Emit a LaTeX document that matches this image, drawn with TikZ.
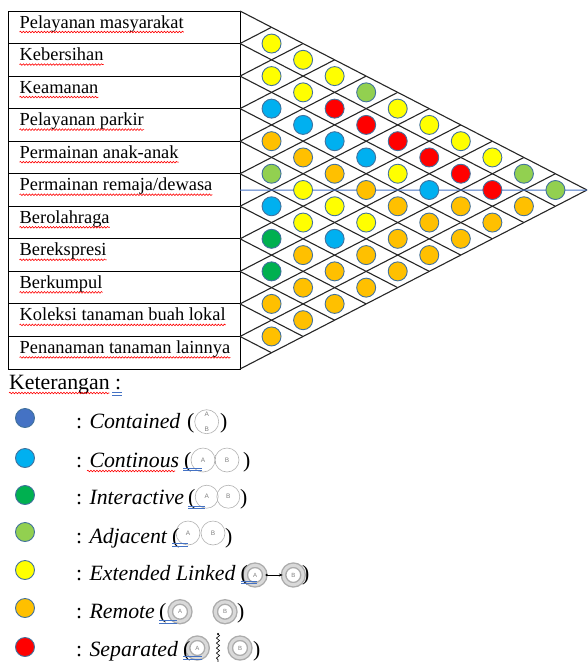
\documentclass[tikz,border=0pt]{standalone}
\usepackage{fontspec}
\setmainfont{Liberation Serif}
\newfontfamily\iconfont{Liberation Sans}
\usetikzlibrary{decorations.pathmorphing,arrows.meta}
\definecolor{cYel}{HTML}{FFFF00}
\definecolor{cLG}{HTML}{92D050}
\definecolor{cCy}{HTML}{00B0F0}
\definecolor{cRed}{HTML}{FF0000}
\definecolor{cOr}{HTML}{FFC000}
\definecolor{cDG}{HTML}{00B050}
\definecolor{cBl}{HTML}{4472C4}
\definecolor{cBord}{HTML}{41719C}
\begin{document}
\begin{tikzpicture}[x=1pt,y=-1pt,
  dot/.style={circle, draw=cBord, line width=0.9pt, minimum size=19pt, inner sep=0pt},
  lbl/.style={anchor=base west, inner sep=0pt, font=\fontsize{18.4pt}{22pt}\selectfont},
  leg/.style={anchor=base west, inner sep=0pt, font=\fontsize{21.8pt}{25pt}\selectfont},
  tbl/.style={line width=1pt, black},
  gridline/.style={line width=1.1pt, black!85},
  squig/.style={red, line width=0.6pt, decorate, decoration={snake, amplitude=0.8pt, segment length=3pt}},
  gram/.style={cBl, line width=0.6pt},
  ico/.style={circle, draw=gray!60, line width=0.6pt, minimum size=24pt, inner sep=0pt, font=\iconfont\fontsize{6.5pt}{6.5pt}\selectfont, text=gray},
  ring/.style={circle, draw=gray!65, double=gray!30, double distance=3pt, line width=1.4pt, minimum size=19.5pt, inner sep=0pt, font=\iconfont\fontsize{6pt}{6pt}\selectfont, text=gray}
]
\useasboundingbox (0,0) rectangle (587,662);
\def\h{32.545}
\def\w{31.545}
% coordinates
\foreach \i in {0,...,11}{
  \coordinate (L\i) at (240,{11+\i*\h});
  \coordinate (R\i) at (8,{11+\i*\h});
  \coordinate (T\i) at ({240+\i*\w},{11+\i*\h/2});
  \coordinate (B\i) at ({240+(11-\i)*\w},{11+(\i+11)*\h/2});
}
% table
\draw[tbl] (R0) rectangle (L11);
\foreach \i in {1,...,10} \draw[tbl] (R\i) -- (L\i);
% diamond grid
\foreach \i in {0,...,10} \draw[gridline] (L\i) -- (B\i);
\foreach \i in {1,...,11} \draw[gridline] (L\i) -- (T\i);
% blue line
\coordinate (midL) at (240,190);
\draw[cBl, line width=1pt] (midL) -- (B0);
% labels
\node[lbl] (n0) at (19.5,{28+0*\h}) {Pelayanan masyarakat};
\node[lbl] (n1) at (19.5,{28+1*\h}) {Kebersihan};
\node[lbl] (n2) at (19.5,{28+2*\h}) {Keamanan};
\node[lbl] (n3) at (19.5,{28+3*\h}) {Pelayanan parkir};
\node[lbl] (n4) at (19.5,{28+4*\h}) {Permainan anak-anak};
\node[lbl] (n5) at (19.5,{28+5*\h}) {Permainan remaja/dewasa};
\node[lbl] (n6) at (19.5,{28+6*\h}) {Berolahraga};
\node[lbl] (n7) at (19.5,{28+7*\h}) {Berekspresi};
\node[lbl] (n8) at (19.5,{28+8*\h}) {Berkumpul};
\node[lbl] (n9) at (19.5,{28+9*\h}) {Koleksi tanaman buah lokal};
\node[lbl] (n10) at (19.5,{28+10*\h}) {Penanaman tanaman lainnya};
\foreach \i in {0,...,10} \draw[squig] ([yshift=-4pt]n\i.base west) -- ([yshift=-4pt]n\i.base east);
% matrix circles
\foreach \a/\b/\c in {
 0/1/cYel,0/2/cYel,0/3/cYel,0/4/cLG,0/5/cYel,0/6/cYel,0/7/cYel,0/8/cYel,0/9/cLG,0/10/cLG,
 1/2/cYel,1/3/cYel,1/4/cRed,1/5/cRed,1/6/cRed,1/7/cRed,1/8/cRed,1/9/cRed,1/10/cOr,
 2/3/cCy,2/4/cCy,2/5/cCy,2/6/cCy,2/7/cYel,2/8/cCy,2/9/cOr,2/10/cOr,
 3/4/cOr,3/5/cOr,3/6/cOr,3/7/cOr,3/8/cOr,3/9/cOr,3/10/cOr,
 4/5/cLG,4/6/cYel,4/7/cYel,4/8/cYel,4/9/cOr,4/10/cOr,
 5/6/cCy,5/7/cYel,5/8/cCy,5/9/cOr,5/10/cOr,
 6/7/cDG,6/8/cOr,6/9/cOr,6/10/cOr,
 7/8/cDG,7/9/cOr,7/10/cOr,
 8/9/cOr,8/10/cOr,
 9/10/cOr}
 \node[dot, fill=\c] (c\a-\b) at ({240+(\b-\a)*\w},{11+\h*(\a+\b+1)/2}) {};
% legend
\node[leg] (ket) at (9,389) {Keterangan :};
\draw[squig] ([yshift=-4pt]ket.base west) -- ([xshift=-12pt,yshift=-4pt]ket.base east);
\draw[gram] (112,392.5) -- (122,392.5) (112,394.8) -- (122,394.8);

\node[dot, fill=cBl] (k1) at (25,418) {};
\node[dot, fill=cCy] (k2) at (25,458) {};
\node[dot, fill=cDG] (k3) at (25,495) {};
\node[dot, fill=cLG] (k4) at (25,532) {};
\node[dot, fill=cYel] (k5) at (25,570) {};
\node[dot, fill=cOr] (k6) at (25,608) {};
\node[dot, fill=cRed] (k7) at (25,647) {};

\node[leg] (t1) at (76,428) {: \textit{Contained}};
\node[leg] (t2) at (76,467) {: \textit{Continous}};
\node[leg] (t3) at (76,504) {: \textit{Interactive}};
\node[leg] (t4) at (76,543) {: \textit{Adjacent}};
\node[leg] (t5) at (76,580) {: \textit{Extended Linked}};
\node[leg] (t6) at (76,618) {: \textit{Remote}};
\node[leg] (t7) at (76,656) {: \textit{Separated}};
\draw[squig] (87,471) -- (175,471);

% Contained icon
\node[ico, align=center] (i1) at (206.7,421.7) {A\\[8.5pt]B};
\node[leg] (p1a) at (187,428) {(};
\node[leg] (p1b) at (220,428) {)};
% Continous icon
\node[ico] (i2a) at (203,460) {A};
\node[ico] (i2b) at (227,460) {B};
\draw[gray!60, dotted, line width=0.8pt] (215,455) -- (215,465);
\node[leg] (p2a) at (184,467) {(};
\node[leg] (p2b) at (243,467) {)};
\draw[gram] (183,468) -- (202,468) (183,470.4) -- (202,470.4);
% Interactive icon
\node[ico, minimum size=23pt] (i3a) at (206.7,496.7) {A};
\node[ico, minimum size=23pt] (i3b) at (228.3,496.7) {B};
\node[leg] (p3a) at (188,504) {(};
\node[leg] (p3b) at (240,504) {)};
\draw[gram] (188,506) -- (205,506) (188,508.4) -- (205,508.4);
% Adjacent icon
\node[ico] (i4a) at (188,533) {A};
\node[ico] (i4b) at (213,533) {B};
\node[leg] (p4a) at (172,543) {(};
\node[leg] (p4b) at (225,543) {)};
\draw[gram] (172,543.5) -- (188,543.5) (172,545.9) -- (188,545.9);
% Extended linked icon
\node[ring] (i5a) at (255,575) {A};
\node[ring] (i5b) at (293.3,575) {B};
\draw[line width=0.8pt, {Circle[length=2.2pt]}-{Stealth[length=4pt]}] (i5a) -- (i5b);
\node[leg] (p5a) at (240.5,580) {(};
\node[leg] (p5b) at (302,580) {)};
\draw[gram] (241,581) -- (257,581) (241,583.4) -- (257,583.4);
% Remote icon
\node[ring] (i6a) at (180,611.7) {A};
\node[ring] (i6b) at (225,611.7) {B};
\node[leg] (p6a) at (159,618) {(};
\node[leg] (p6b) at (237,618) {)};
\draw[gram] (159,620.5) -- (177,620.5) (159,622.9) -- (177,622.9);
% Separated icon
\node[ring] (i7a) at (197.3,648) {A};
\node[ring] (i7b) at (240,648) {B};
\coordinate (sw1) at (218,634);
\coordinate (sw2) at (218,662);
\fill (sw1) circle (1.2pt);
\draw[line width=0.6pt, decorate, decoration={snake, amplitude=1.6pt, segment length=5pt}] (sw1) -- (sw2);
\node[leg] (p7a) at (183,656) {(};
\node[leg] (p7b) at (253,656) {)};
\draw[gram] (183,656.5) -- (202,656.5) (183,658.9) -- (202,658.9);
\end{tikzpicture}
\end{document}
